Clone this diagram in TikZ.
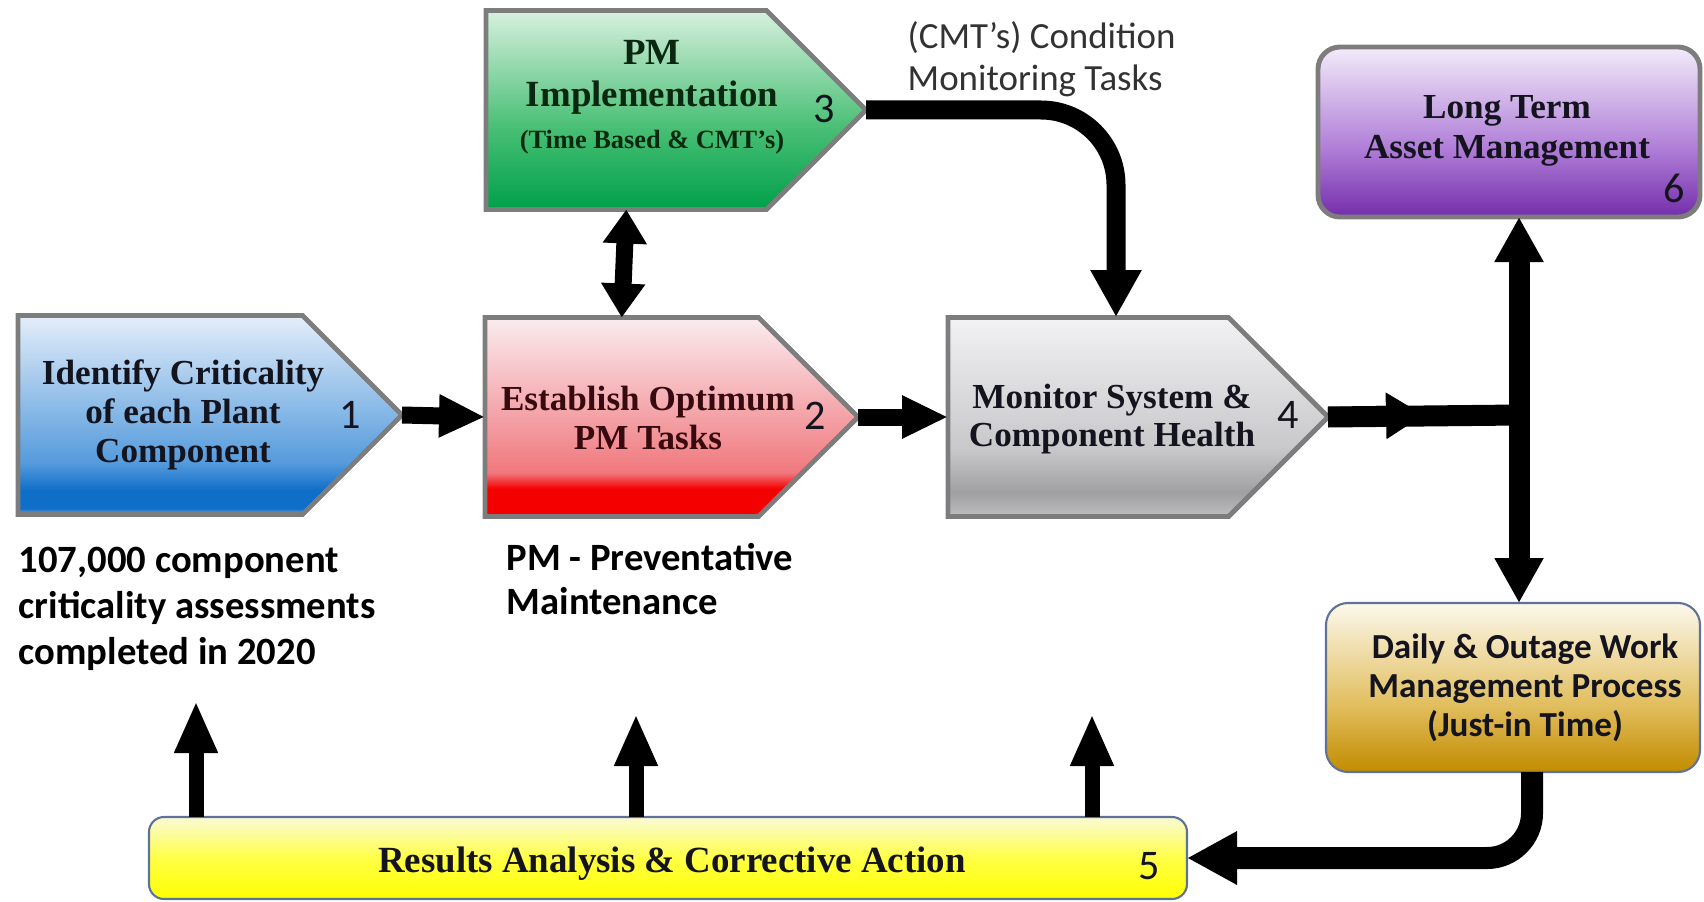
\documentclass[tikz,border=0pt]{standalone}
\usepackage{fontspec}
\setmainfont{Liberation Serif}
\newfontfamily\calibfont{Carlito}
\usetikzlibrary{shapes.symbols,arrows.meta}
\definecolor{myborder}{RGB}{125,125,125}
\definecolor{myedge}{RGB}{95,115,150}
\definecolor{mytext}{RGB}{20,20,30}
\definecolor{blueA}{RGB}{120,175,225}
\definecolor{blueB}{RGB}{15,110,200}
\definecolor{blueC}{RGB}{85,155,220}
\definecolor{blueD}{RGB}{228,238,250}
\definecolor{redB}{RGB}{245,0,0}
\definecolor{redC}{RGB}{240,120,125}
\definecolor{redD}{RGB}{250,236,240}
\definecolor{greenA}{RGB}{0,160,75}
\definecolor{greenB}{RGB}{70,190,115}
\definecolor{greenC}{RGB}{215,240,222}
\definecolor{grayA}{RGB}{190,190,192}
\definecolor{grayB}{RGB}{160,160,163}
\definecolor{grayC}{RGB}{200,200,203}
\definecolor{grayD}{RGB}{242,242,244}
\definecolor{purpA}{RGB}{115,45,170}
\definecolor{purpB}{RGB}{175,125,215}
\definecolor{purpC}{RGB}{242,236,250}
\definecolor{goldA}{RGB}{195,140,0}
\definecolor{goldB}{RGB}{225,190,95}
\definecolor{goldC}{RGB}{252,248,236}
\definecolor{yelA}{RGB}{255,255,0}
\definecolor{yelB}{RGB}{255,255,70}
\definecolor{yelC}{RGB}{250,250,215}

% Vertical fills, the box covers 25bp to 75bp.
\pgfdeclareverticalshading{critshade}{100bp}{color(0bp)=(blueA); color(25bp)=(blueA); color(26.5bp)=(blueB); color(31bp)=(blueB); color(38bp)=(blueC); color(75bp)=(blueD); color(100bp)=(blueD)}
\pgfdeclareverticalshading{estshade}{100bp}{color(0bp)=(redB); color(25bp)=(redB); color(32bp)=(redB); color(36bp)=(redC); color(75bp)=(redD); color(100bp)=(redD)}
\pgfdeclareverticalshading{pmishade}{100bp}{color(0bp)=(greenA); color(25bp)=(greenA); color(45bp)=(greenB); color(75bp)=(greenC); color(100bp)=(greenC)}
\pgfdeclareverticalshading{monshade}{100bp}{color(0bp)=(grayA); color(25bp)=(grayA); color(31bp)=(grayB); color(42bp)=(grayC); color(75bp)=(grayD); color(100bp)=(grayD)}
\pgfdeclareverticalshading{ltamshade}{100bp}{color(0bp)=(purpA); color(25bp)=(purpA); color(45bp)=(purpB); color(75bp)=(purpC); color(100bp)=(purpC)}
\pgfdeclareverticalshading{dwmshade}{100bp}{color(0bp)=(goldA); color(25bp)=(goldA); color(45bp)=(goldB); color(75bp)=(goldC); color(100bp)=(goldC)}
\pgfdeclareverticalshading{resshade}{100bp}{color(0bp)=(yelA); color(25bp)=(yelA); color(50bp)=(yelB); color(75bp)=(yelC); color(100bp)=(yelC)}

\begin{document}
\begin{tikzpicture}[
    stage/.style={signal, signal to=east, signal from=nowhere, signal pointer angle=90,
        draw=myborder, line width=1.4pt, inner sep=0pt, outer sep=0pt,
        minimum height=1.99cm, anchor=west},
    panel/.style={rectangle, rounded corners=0.22cm, inner sep=0pt, outer sep=0pt},
    boxtext/.style={align=center, text=mytext, font=\bfseries\fontsize{10}{11}\selectfont},
    numtext/.style={text=mytext, font=\calibfont\fontsize{12}{12}\selectfont},
    note/.style={align=left, anchor=west, inner sep=0pt, font=\calibfont\bfseries\fontsize{11}{13}\selectfont},
    flow/.style={line width=0.17cm, -{Triangle[width=0.40cm,length=0.46cm]}},
    bus/.style={line width=0.21cm}
]
    \useasboundingbox (0,0) rectangle (17.04,-9.01);

    % The four process stages.
    \node[stage, shading=critshade, minimum width=3.84cm] (crit) at (0.18,-4.15) {};
    \node[stage, shading=estshade, minimum width=3.73cm] (est) at (4.85,-4.17) {};
    \node[stage, shading=pmishade, minimum width=3.80cm] (pmi) at (4.86,-1.10) {};
    \node[stage, shading=monshade, minimum width=3.80cm] (mon) at (9.48,-4.17) {};

    \node[boxtext] (crit-txt) at (1.83,-4.15) {Identify Criticality\\of each Plant\\Component};
    \node[numtext] (crit-num) at (3.50,-4.15) {1};
    \node[boxtext, text={rgb,255:red,55;green,10;blue,15}] (est-txt) at (6.48,-4.18) {Establish Optimum\\PM Tasks};
    \node[numtext] (est-num) at (8.15,-4.16) {2};
    \node[boxtext, text={rgb,255:red,10;green,40;blue,15}, font=\bfseries\fontsize{10.5}{12}\selectfont] (pmi-txt) at (6.52,-0.97)
        {PM\\Implementation\\{\fontsize{7.5}{9}\selectfont(Time Based \& CMT’s)}};
    \node[numtext] (pmi-num) at (8.24,-1.09) {3};
    \node[boxtext] (mon-txt) at (11.12,-4.19) {Monitor System \&\\Component Health};
    \node[numtext] (mon-num) at (12.88,-4.15) {4};

    % Right hand and bottom boxes.
    \node[panel, shading=ltamshade, draw=myborder, line width=1.4pt,
        minimum width=3.82cm, minimum height=1.70cm] (ltam) at (15.09,-1.32) {};
    \node[boxtext, font=\bfseries\fontsize{10}{11.4}\selectfont] (ltam-txt) at (15.07,-1.31) {Long Term\\Asset Management};
    \node[numtext] (ltam-num) at (16.74,-1.88) {6};

    \node[panel, shading=dwmshade, draw=myedge, line width=0.6pt,
        minimum width=3.74cm, minimum height=1.69cm] (dwm) at (15.13,-6.875) {};
    \node[boxtext, font=\calibfont\bfseries\fontsize{10}{11.1}\selectfont] (dwm-txt) at (15.25,-6.88)
        {Daily \& Outage Work\\Management Process\\(Just-in Time)};

    \node[panel, rounded corners=0.15cm, shading=resshade, draw=myedge, line width=0.6pt,
        minimum width=10.38cm, minimum height=0.82cm] (res) at (6.68,-8.58) {};
    \node[boxtext, font=\bfseries\fontsize{10.5}{12}\selectfont] (res-txt) at (6.72,-8.64) {Results Analysis \& Corrective Action};
    \node[numtext] (res-num) at (11.49,-8.66) {5};

    % Notes.
    \node[align=left, anchor=west, inner sep=0pt, font=\calibfont\fontsize{10.5}{12}\selectfont, text={rgb,255:red,50;green,50;blue,50}] (cmt-note) at (9.07,-0.59)
        {(CMT’s) Condition\\Monitoring Tasks};
    \node[note] (crit-note) at (0.18,-6.09) {107,000 component\\criticality assessments\\completed in 2020};
    \node[note, font=\calibfont\bfseries\fontsize{11}{12.5}\selectfont] (pm-note) at (5.06,-5.79) {PM - Preventative\\Maintenance};

    % Connectors.
    \coordinate (cmtin) at (11.16,-3.17);
    \coordinate (jtip) at (14.24,-4.15);
    \coordinate (junc) at (15.19,-4.15);
    \coordinate (ret) at (15.32,-7.72);
    \coordinate (up1) at (1.96,-7.01);
    \coordinate (up2) at (6.36,-7.14);
    \coordinate (up3) at (10.92,-7.14);

    \draw[flow] (crit.east) -- (est.west);
    \draw[flow] (est.east) -- (mon.west);
    \draw[line width=0.17cm, {Triangle[width=0.42cm,length=0.34cm]}-{Triangle[width=0.42cm,length=0.34cm]}] (pmi.south) -- (est.north);
    \draw[line width=0.19cm, rounded corners=0.75cm, -{Triangle[width=0.48cm,length=0.47cm]}] (pmi.east) -| (cmtin);
    \draw[bus] (mon.east) -- (junc);
    \draw[line width=0.2cm, -{Triangle[width=0.44cm,length=0.38cm]}] (mon.east) -- (jtip);
    \draw[bus, {Triangle[width=0.46cm,length=0.45cm]}-{Triangle[width=0.46cm,length=0.45cm]}] (ltam.south -| junc) -- (dwm.north -| junc);
    \draw[line width=0.22cm, rounded corners=0.45cm, -{Triangle[width=0.50cm,length=0.50cm]}] (dwm.south -| ret) |- (res.east);
    \draw[line width=0.15cm, -{Triangle[width=0.40cm,length=0.52cm]}] (res.north -| up1) -- (up1);
    \draw[line width=0.15cm, -{Triangle[width=0.40cm,length=0.52cm]}] (res.north -| up2) -- (up2);
    \draw[line width=0.15cm, -{Triangle[width=0.40cm,length=0.52cm]}] (res.north -| up3) -- (up3);
\end{tikzpicture}
\end{document}
